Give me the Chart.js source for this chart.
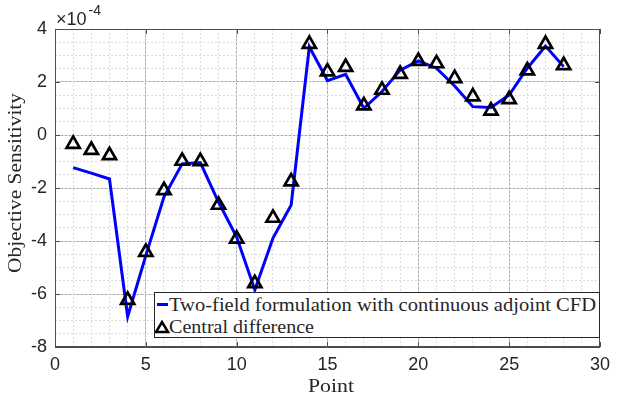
<!DOCTYPE html>
<html>
<head>
<meta charset="utf-8">
<script src="https://cdn.jsdelivr.net/npm/chart.js@4.4.1/dist/chart.umd.min.js"></script>
<style>
  html, body { margin: 0; padding: 0; background: #ffffff; }
  #wrap { position: relative; width: 617px; height: 400px; overflow: hidden; }
  #c { position: absolute; left: 0; top: 0; }
  .ov { position: absolute; white-space: nowrap; font-family: "Liberation Serif", "Times New Roman", serif; color: #262626; }
  .fit { display: inline-block; transform-origin: 0 50%; }
  #legend { position: absolute; left: 154px; top: 292px; width: 446px; height: 46px; background: #fff; border: 1px solid #262626; box-sizing: border-box; }
</style>
</head>
<body>
<div id="wrap">
  <canvas id="c" width="617" height="400"></canvas>
  <div class="ov" id="expo" style="left:56px; top:10px; font-family:'Liberation Sans',Arial,sans-serif; font-size:18px; line-height:18px; color:#262626;">×10<span style="position:relative; top:-10px; font-size:14px; margin-left:2px;">-4</span></div>
  <div class="ov" id="xtitle" style="left:308px; top:375px; width:46px; height:22px; font-size:19px; line-height:22px;"><span class="fit" data-w="46">Point</span></div>
  <div class="ov" id="ytitle" style="left:-75px; top:172px; width:180px; height:22px; font-size:19px; line-height:22px; transform: rotate(-90deg); transform-origin: 50% 50%;"><span class="fit" data-w="180">Objective Sensitivity</span></div>
  <div id="legend">
    <svg style="position:absolute; left:1px; top:8px;" width="14" height="14"><line x1="1" y1="3.5" x2="12" y2="3.5" stroke="#0000ff" stroke-width="3"/></svg>
    <div class="ov" style="left:14px; top:1px; font-size:18px; line-height:22px;"><span class="fit" data-w="427">Two-field formulation with continuous adjoint CFD</span></div>
    <svg style="position:absolute; left:0px; top:27px;" width="16" height="14"><polygon points="7,2 13,12 1,12" fill="none" stroke="#000" stroke-width="2.5" stroke-linejoin="miter"/></svg>
    <div class="ov" style="left:14px; top:23px; font-size:18px; line-height:22px;"><span class="fit" data-w="145">Central difference</span></div>
  </div>
</div>
<script>
// ---- data ----
const points = [1,2,3,4,5,6,7,8,9,10,11,12,13,14,15,16,17,18,19,20,21,22,23,24,25,26,27,28];
const twoFieldAdjoint = [-1.23,-1.44,-1.66,-6.85,-4.55,-2.33,-1.09,-1.04,-2.53,-3.85,-5.85,-3.89,-2.64,3.33,2.05,2.29,1.01,1.64,2.45,2.80,2.52,1.85,1.07,1.04,1.51,2.52,3.36,2.58];
const centralDifference = [-0.34,-0.57,-0.77,-6.23,-4.42,-2.09,-0.98,-0.99,-2.64,-3.92,-5.60,-3.13,-1.76,3.43,2.39,2.56,1.11,1.70,2.30,2.79,2.70,2.14,1.45,0.91,1.35,2.43,3.43,2.63];
const xTicks = [0,5,10,15,20,25,30];
const yTicks = [-8,-6,-4,-2,0,2,4];
const seriesNames = ["Two-field formulation with continuous adjoint CFD", "Central difference"];

// ---- fit overlay text widths ----
(function(){
  const cv = document.createElement('canvas').getContext('2d');
  document.querySelectorAll('.fit').forEach(el => {
    const cs = getComputedStyle(el);
    cv.font = cs.fontSize + ' ' + cs.fontFamily;
    const w = cv.measureText(el.textContent).width;
    const target = parseFloat(el.dataset.w);
    if (w > 0) el.style.transform = 'scaleX(' + (target / w) + ')';
  });
})();

const AXIS_COLOR = '#4d4d4d';
const MAJOR_GRID = '#a8a8a8';
const MINOR_GRID = '#dcdcdc';
const tickFont = { family: "'Liberation Sans', Arial, sans-serif", size: 18 };

const framePlugin = {
  id: 'frame',
  afterDraw(chart) {
    const { ctx, chartArea: a, scales } = chart;
    ctx.save();
    ctx.strokeStyle = AXIS_COLOR;
    ctx.lineWidth = 1;
    ctx.strokeRect(a.left + 0.5, a.top + 0.5, a.right - a.left - 1, a.bottom - a.top - 1);
    ctx.beginPath();
    xTicks.forEach(v => {
      const px = Math.round(scales.x.getPixelForValue(v)) + 0.5;
      ctx.moveTo(px, a.bottom); ctx.lineTo(px, a.bottom - 5);
      ctx.moveTo(px, a.top); ctx.lineTo(px, a.top + 5);
    });
    yTicks.forEach(v => {
      const py = Math.round(scales.y.getPixelForValue(v)) + 0.5;
      ctx.moveTo(a.left, py); ctx.lineTo(a.left + 5, py);
      ctx.moveTo(a.right, py); ctx.lineTo(a.right - 5, py);
    });
    ctx.stroke();
    ctx.restore();
  }
};

new Chart(document.getElementById('c'), {
  type: 'line',
  data: {
    datasets: [
      {
        label: seriesNames[1],
        data: points.map((p, i) => ({ x: p, y: centralDifference[i] })),
        showLine: false,
        pointStyle: 'triangle',
        pointRadius: 7.6,
        pointBorderWidth: 2.7,
        pointBorderColor: '#000000',
        pointBackgroundColor: 'rgba(0,0,0,0)',
        borderColor: '#000000',
        order: 0
      },
      {
        label: seriesNames[0],
        data: points.map((p, i) => ({ x: p, y: twoFieldAdjoint[i] })),
        borderColor: '#0000ff',
        borderWidth: 3,
        pointRadius: 0,
        tension: 0,
        fill: false,
        order: 1
      }
    ]
  },
  options: {
    responsive: false,
    animation: false,
    events: [],
    layout: { padding: { top: 29, right: 9, left: 0, bottom: 0 } },
    plugins: { legend: { display: false }, tooltip: { enabled: false } },
    scales: {
      x: {
        type: 'linear', min: 0, max: 30,
        afterBuildTicks: s => { s.ticks = xTicks.map(v => ({ value: v })); },
        ticks: { font: tickFont, color: '#262626', padding: 7, maxRotation: 0, autoSkip: false, callback: v => String(v) },
        grid: { color: MAJOR_GRID, lineWidth: 1, drawTicks: false },
        border: { color: AXIS_COLOR, width: 1 },
        afterFit: s => { s.height = 53; }
      },
      y: {
        type: 'linear', min: -8, max: 4,
        afterBuildTicks: s => { s.ticks = yTicks.map(v => ({ value: v })); },
        ticks: { font: tickFont, color: '#262626', padding: 8, autoSkip: false, callback: v => String(v) },
        grid: { color: MAJOR_GRID, lineWidth: 1, drawTicks: false },
        border: { color: AXIS_COLOR, width: 1 },
        afterFit: s => { s.width = 55; }
      },
      xMinor: {
        type: 'linear', position: 'bottom', min: 0, max: 30,
        ticks: { display: false, stepSize: 1 },
        grid: { color: MINOR_GRID, lineWidth: 1, drawTicks: false, z: -1 },
        border: { display: false, dash: [2, 2] },
        afterFit: s => { s.height = 0; }
      },
      yMinor: {
        type: 'linear', position: 'left', min: -8, max: 4,
        ticks: { display: false, stepSize: 0.5 },
        grid: { color: MINOR_GRID, lineWidth: 1, drawTicks: false, z: -1 },
        border: { display: false, dash: [2, 2] },
        afterFit: s => { s.width = 0; }
      }
    }
  },
  plugins: [framePlugin]
});
</script>
</body>
</html>
